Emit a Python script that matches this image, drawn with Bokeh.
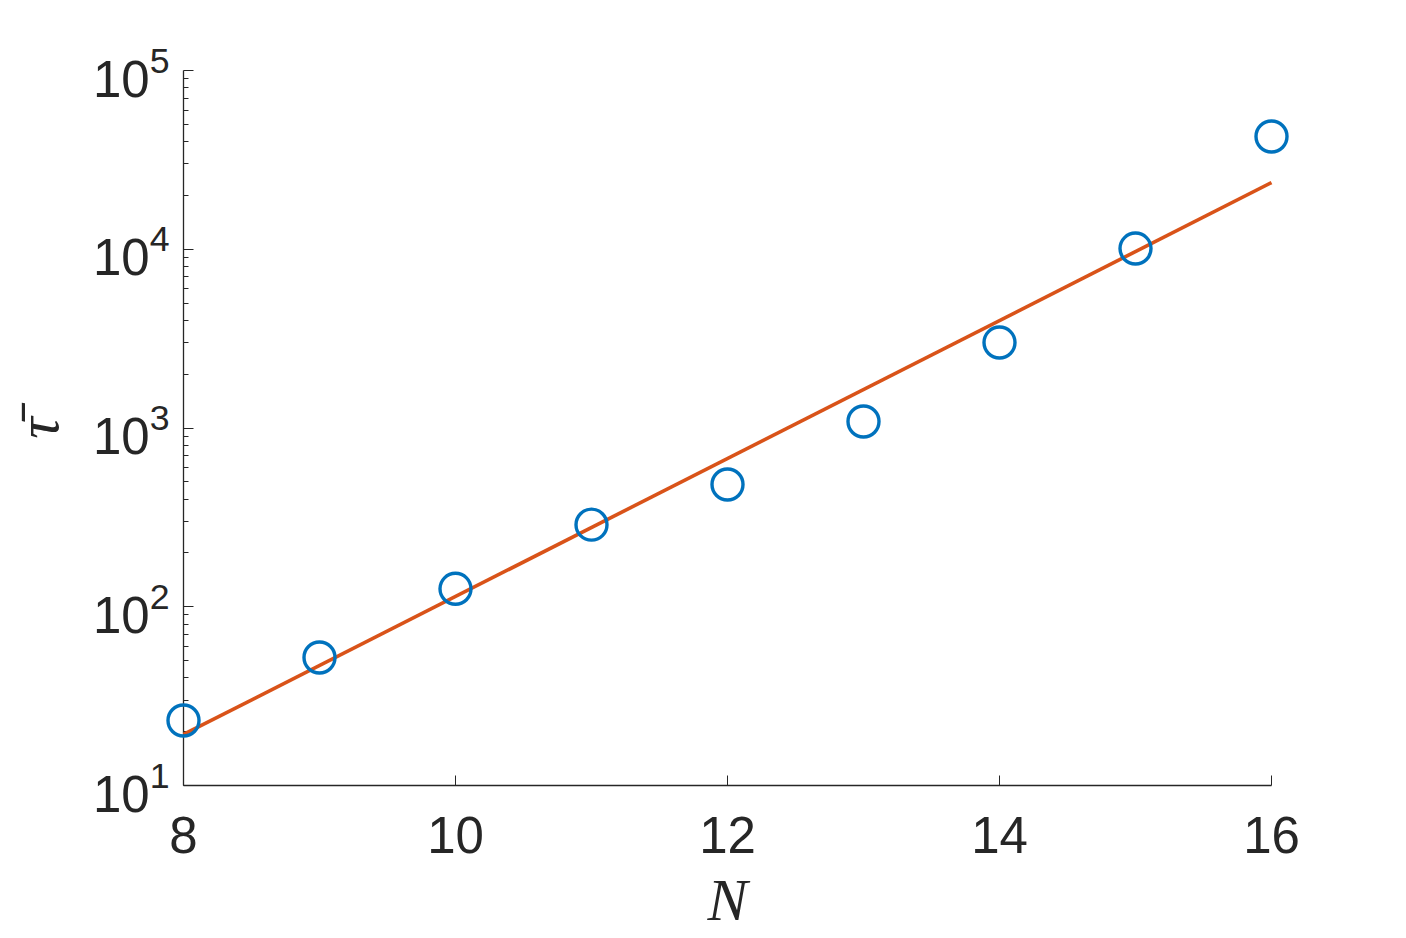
from bokeh.plotting import figure
from bokeh.models import FixedTicker, Range1d
from bokeh.embed import file_html
from bokeh.resources import INLINE

# data
N = [8, 9, 10, 11, 12, 13, 14, 15, 16]
tau = [23.1, 52.0, 126.0, 288.0, 483.0, 1087.0, 3006.0, 10090.0, 42750.0]
fit_N = [8, 16]
fit_tau = [19.3, 23600.0]

x_ticks = [8, 10, 12, 14, 16]
y_ticks = [1e1, 1e2, 1e3, 1e4, 1e5]
y_minor = [m * d for d in [1e1, 1e2, 1e3, 1e4] for m in range(2, 10)]

AX = "#262626"

p = figure(width=1398, height=935, y_axis_type="log",
           x_range=Range1d(8, 16), y_range=Range1d(10, 1e5),
           output_backend="svg", toolbar_location=None,
           min_border_left=183, min_border_top=70, min_border_right=127, min_border_bottom=145)
p.outline_line_color = None
p.grid.grid_line_color = None
p.background_fill_color = "white"
p.border_fill_color = "white"

p.line(fit_N, fit_tau, line_color="#D95319", line_width=3.6, level="overlay")
p.scatter(N, tau, marker="circle", size=31, fill_color=None,
          line_color="#0072BD", line_width=3.4, level="overlay")

xa = p.xaxis[0]
xa.ticker = FixedTicker(ticks=x_ticks, minor_ticks=[])
ya = p.yaxis[0]
ya.ticker = FixedTicker(ticks=y_ticks, minor_ticks=y_minor)

for ax in (xa, ya):
    ax.axis_line_color = AX
    ax.axis_line_width = 1.3
    ax.major_tick_line_color = AX
    ax.minor_tick_line_color = AX
    ax.major_tick_in = 10
    ax.major_tick_out = 0
    ax.minor_tick_in = 5
    ax.minor_tick_out = 0
    ax.major_label_text_font = "Liberation Sans"
    ax.major_label_text_font_size = "51px"
    ax.major_label_text_color = AX
    ax.axis_label_text_font = "Liberation Serif"
    ax.axis_label_text_font_style = "italic"
    ax.axis_label_text_color = AX
    ax.axis_label_text_font_size = "60px"

xa.minor_tick_in = 0
xa.major_label_standoff = 31
xa.axis_label = "N"
xa.axis_label_standoff = 11
ya.major_label_standoff = 14
ya.axis_label = "\u03c4\u0304"
ya.axis_label_standoff = 19

open("out.html", "w").write(file_html(p, INLINE))
